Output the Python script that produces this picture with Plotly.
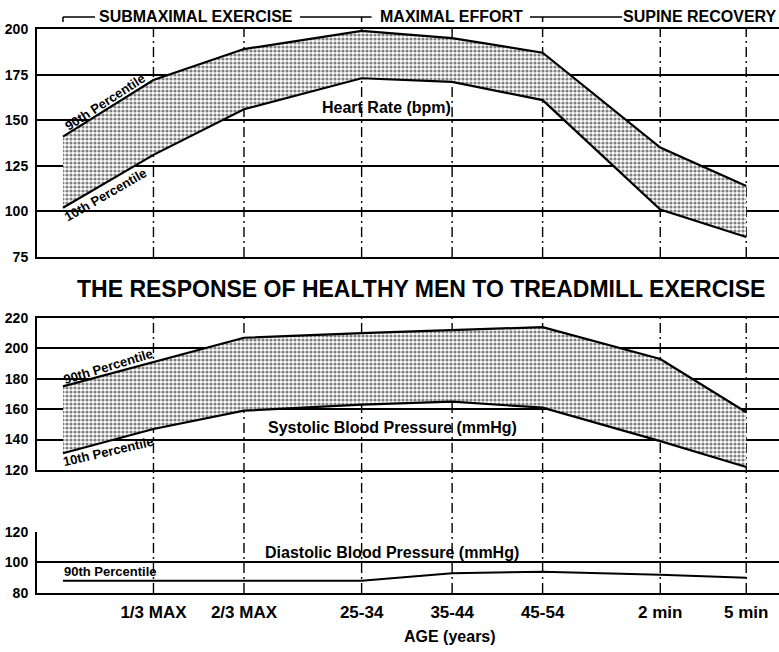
import plotly.graph_objects as go

# ---------------- data ----------------
stages = ["Rest", "1/3 MAX", "2/3 MAX", "25-34", "35-44", "45-54", "2 min", "5 min"]
stage_x = [0, 1, 2, 3.3, 4.3, 5.3, 6.6, 7.55]
tick_labels = ["1/3 MAX", "2/3 MAX", "25-34", "35-44", "45-54", "2 min", "5 min"]

hr_p90 = [141, 172, 189, 199, 195, 187, 135, 114]
hr_p10 = [102, 131, 156, 173, 171, 161, 101, 86]
sbp_p90 = [175, 191, 207, 210, 212, 214, 193, 158]
sbp_p10 = [131, 147, 159, 163, 165, 161, 139, 122]
dbp_p90 = [88, 88, 88, 88, 93, 94, 92, 90]

hr_ticks = [75, 100, 125, 150, 175, 200]
sbp_ticks = [120, 140, 160, 180, 200, 220]
dbp_ticks = [80, 100, 120]

FONT = "Liberation Sans, Arial, sans-serif"
XR = [-0.287, 7.912]

pattern = dict(shape=".", fgcolor="black", bgcolor="white", size=4, solidity=0.5)
line = dict(color="black", width=2.2)

fig = go.Figure()
# Heart rate band
fig.add_trace(go.Scatter(x=stage_x, y=hr_p10, mode="lines", line=line, xaxis="x", yaxis="y", showlegend=False))
fig.add_trace(go.Scatter(x=stage_x, y=hr_p90, mode="lines", line=line, fill="tonexty",
                         fillpattern=pattern, fillcolor="white", xaxis="x", yaxis="y", showlegend=False))
# Systolic band
fig.add_trace(go.Scatter(x=stage_x, y=sbp_p10, mode="lines", line=line, xaxis="x2", yaxis="y2", showlegend=False))
fig.add_trace(go.Scatter(x=stage_x, y=sbp_p90, mode="lines", line=line, fill="tonexty",
                         fillpattern=pattern, fillcolor="white", xaxis="x2", yaxis="y2", showlegend=False))
# Diastolic
fig.add_trace(go.Scatter(x=stage_x, y=dbp_p90, mode="lines", line=dict(color="black", width=2),
                         xaxis="x3", yaxis="y3", showlegend=False))

ax_common = dict(range=XR, showgrid=False, zeroline=False, showline=True, linecolor="black",
                 linewidth=2, mirror=True, fixedrange=True, automargin=False)
y_common = dict(showgrid=True, gridcolor="black", gridwidth=2, zeroline=False, showline=True,
                linecolor="black", linewidth=2, ticks="", automargin=False,
                tickfont=dict(family=FONT, size=14, color="black", weight="bold"),
                ticklabelstandoff=4)

fig.update_layout(
    width=779, height=652,
    margin=dict(l=37, r=0, t=29, b=59, autoexpand=False),
    paper_bgcolor="white", plot_bgcolor="white",
    font=dict(family=FONT, color="black"),
    xaxis=dict(**ax_common, domain=[0, 1], anchor="y", showticklabels=False),
    xaxis2=dict(**ax_common, domain=[0, 1], anchor="y2", showticklabels=False),
    xaxis3=dict(range=XR, showgrid=False, zeroline=False, showline=True, linecolor="black", linewidth=2,
                domain=[0, 1], anchor="y3", tickmode="array", tickvals=stage_x[1:], ticktext=tick_labels,
                ticks="", ticklabelstandoff=3, automargin=False,
                tickfont=dict(family=FONT, size=17, color="black", weight="bold")),
    yaxis=dict(**y_common, domain=[0.5957, 1], range=[75, 200], tickvals=hr_ticks, anchor="x"),
    yaxis2=dict(**y_common, domain=[0.2181, 0.4876], range=[120, 220], tickvals=sbp_ticks, anchor="x2"),
    yaxis3=dict(**y_common, domain=[0, 0.1082], range=[80, 120], tickvals=dbp_ticks, anchor="x3"),
)

shapes = []
vline = dict(color="black", width=1.4, dash="10px,4px,2px,4px")
for xv in stage_x[1:]:
    shapes.append(dict(type="line", xref="x", yref="paper", x0=xv, x1=xv, y0=0.5957, y1=1.0, line=vline, layer="below"))
    shapes.append(dict(type="line", xref="x", yref="paper", x0=xv, x1=xv, y0=0.0, y1=0.4876, line=vline, layer="below"))

# header bracket
hy, ty = 1.0213, 1.0124
hl = dict(color="black", width=1.5)
for x0, x1 in [(stage_x[0], 0.354), (2.62, 3.41), (5.16, 6.18)]:
    shapes.append(dict(type="line", xref="x", yref="paper", x0=x0, x1=x1, y0=hy, y1=hy, line=hl))
for xv in [stage_x[0], stage_x[3], stage_x[5]]:
    shapes.append(dict(type="line", xref="x", yref="paper", x0=xv, x1=xv, y0=hy, y1=ty, line=hl))
fig.update_layout(shapes=shapes)

bold = lambda s: dict(family=FONT, size=s, color="black", weight="bold")
M = dict(showarrow=False, yanchor="middle")
ann = [
    dict(text="SUBMAXIMAL EXERCISE", x=1.47, y=hy, xref="x", yref="paper", xanchor="center", font=bold(16), bgcolor="white", **M),
    dict(text="MAXIMAL EFFORT", x=4.29, y=hy, xref="x", yref="paper", xanchor="center", font=bold(16), bgcolor="white", **M),
    dict(text="SUPINE RECOVERY", x=0.999, y=hy, xref="paper", yref="paper", xanchor="right",
         font=bold(16), bgcolor="white", borderpad=0, **M),
    dict(text="THE RESPONSE OF HEALTHY MEN TO TREADMILL EXERCISE", x=3.96, y=0.539, xref="x", yref="paper",
         xanchor="center", font=bold(23), **M),
    dict(text="Heart Rate (bpm)", x=3.58, y=157, xref="x", yref="y", font=bold(16), **M),
    dict(text="Systolic Blood Pressure (mmHg)", x=3.64, y=148, xref="x2", yref="y2", font=bold(16), **M),
    dict(text="Diastolic Blood Pressure (mmHg)", x=3.64, y=106.5, xref="x3", yref="y3", font=bold(16), **M),
    dict(text="90th Percentile", x=0.475, y=160, xref="x", yref="y", textangle=-33, font=bold(13), **M),
    dict(text="10th Percentile", x=0.475, y=109.5, xref="x", yref="y", textangle=-30, font=bold(13), **M),
    dict(text="90th Percentile", x=0.5, y=188, xref="x2", yref="y2", textangle=-17, font=bold(13), **M),
    dict(text="10th Percentile", x=0.5, y=132, xref="x2", yref="y2", textangle=-13, font=bold(13), **M),
    dict(text="90th Percentile", x=-0.01, y=93.8, xref="x3", yref="y3", xanchor="left", font=bold(13), **M),
    dict(text="AGE (years)", x=4.28, y=-0.078, xref="x", yref="paper", xanchor="center", font=bold(16), **M),
]
fig.update_layout(annotations=ann)

fig.write_html("out.html", config={"displayModeBar": False},
               post_script="document.body.style.margin='0';document.body.style.padding='0';")
